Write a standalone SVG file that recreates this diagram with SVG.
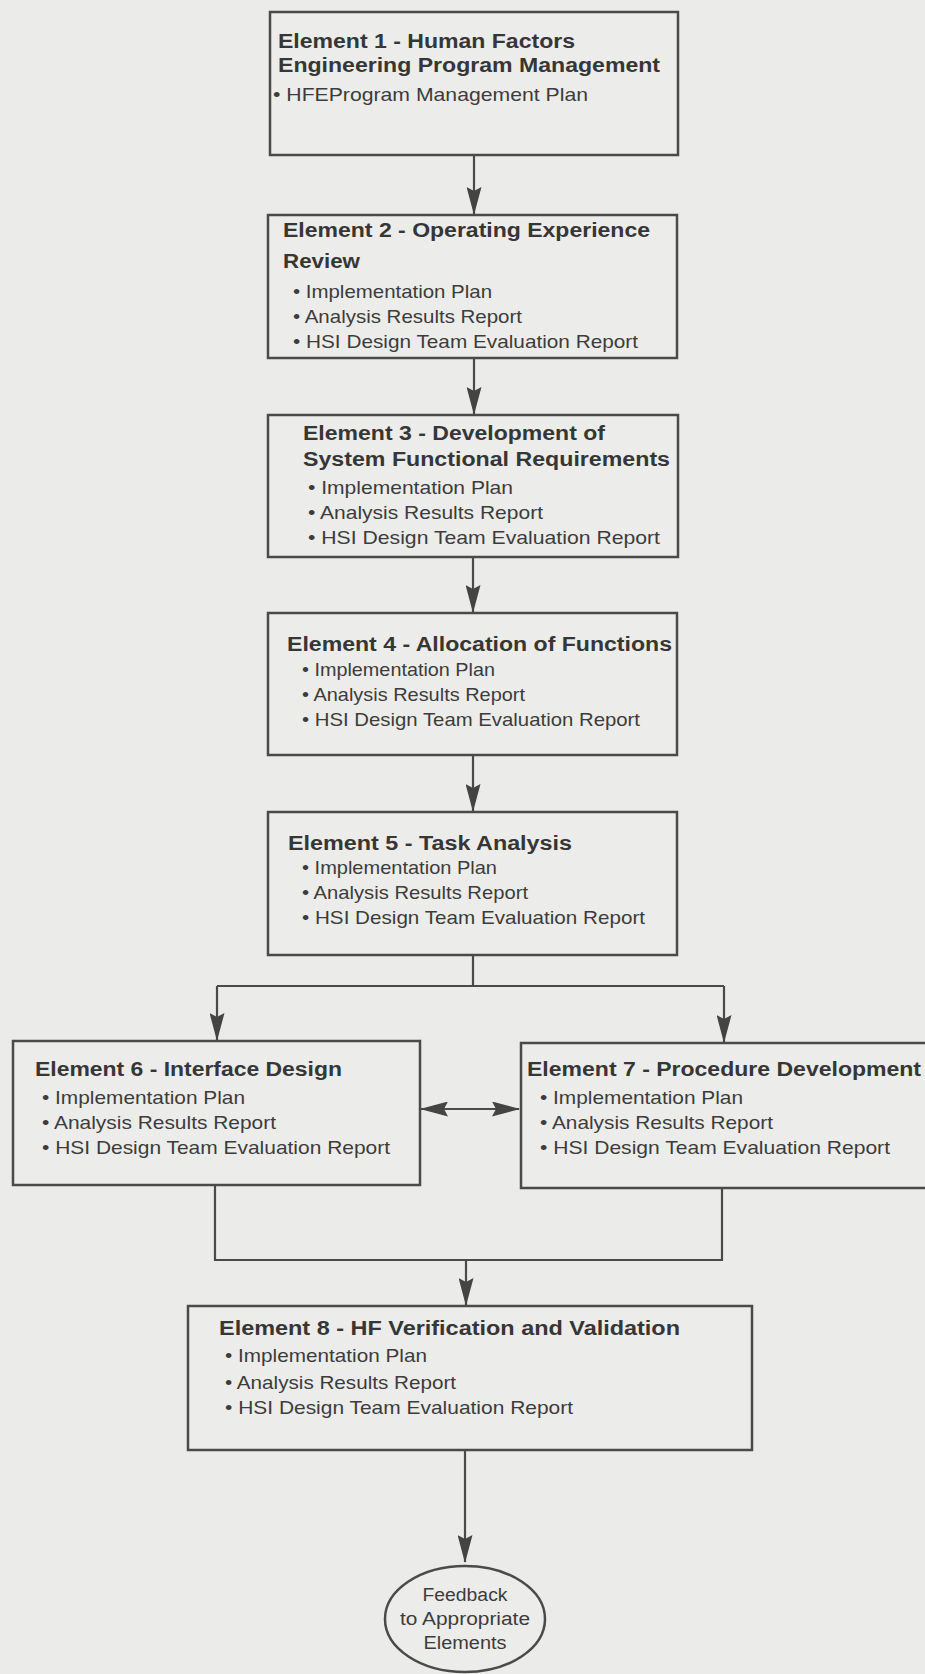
<svg xmlns="http://www.w3.org/2000/svg" width="925" height="1674" viewBox="0 0 925 1674">
<style>
.box{fill:#ececea;stroke:#4a4a4a;stroke-width:2.5}
.t{font-family:"Liberation Sans",Arial,sans-serif;font-weight:bold;font-size:20px;fill:#363636}
.b{font-family:"Liberation Sans",Arial,sans-serif;font-size:19px;fill:#3c3c3c}
.e{font-family:"Liberation Sans",Arial,sans-serif;font-size:18px;fill:#3c3c3c}
.c{fill:none;stroke:#4a4a4a;stroke-width:2.2}
</style>
<defs>
<marker id="ah" viewBox="0 0 28 15" refX="27" refY="7.5" markerWidth="28" markerHeight="15" markerUnits="userSpaceOnUse" orient="auto-start-reverse">
<path d="M0,0 L28,7.5 L0,15 L4,7.5 z" fill="#444"/>
</marker>
</defs>
<rect width="925" height="1674" fill="#ebebe9"/>
<g id="connectors">
<path class="c" d="M474,155 V214" marker-end="url(#ah)"/>
<path class="c" d="M474,358 V414" marker-end="url(#ah)"/>
<path class="c" d="M473,557 V612" marker-end="url(#ah)"/>
<path class="c" d="M473,755 V811" marker-end="url(#ah)"/>
<path class="c" d="M473,955 V986 M217,986 H724"/>
<path class="c" d="M217,986 V1040" marker-end="url(#ah)"/>
<path class="c" d="M724,986 V1042" marker-end="url(#ah)"/>
<path class="c" d="M421,1109 H519" marker-start="url(#ah)" marker-end="url(#ah)"/>
<path class="c" d="M215,1185 V1260 H722 V1188"/>
<path class="c" d="M466,1260 V1305" marker-end="url(#ah)"/>
<path class="c" d="M465,1450 V1562" marker-end="url(#ah)"/>
</g>
<g id="element1">
<rect class="box" x="270" y="12" width="408" height="143"/>
<text class="t" x="278" y="48" textLength="297" lengthAdjust="spacingAndGlyphs">Element 1 - Human Factors</text>
<text class="t" x="278" y="72" textLength="382" lengthAdjust="spacingAndGlyphs">Engineering Program Management</text>
<text class="b" x="273" y="101" textLength="315" lengthAdjust="spacingAndGlyphs">• HFEProgram Management Plan</text>
</g>
<g id="element2">
<rect class="box" x="268" y="215" width="409" height="143"/>
<text class="t" x="283" y="237" textLength="367" lengthAdjust="spacingAndGlyphs">Element 2 - Operating Experience</text>
<text class="t" x="283" y="268" textLength="77" lengthAdjust="spacingAndGlyphs">Review</text>
<text class="b" x="293" y="298" textLength="199" lengthAdjust="spacingAndGlyphs">• Implementation Plan</text>
<text class="b" x="293" y="323" textLength="229" lengthAdjust="spacingAndGlyphs">• Analysis Results Report</text>
<text class="b" x="293" y="348" textLength="345" lengthAdjust="spacingAndGlyphs">• HSI Design Team Evaluation Report</text>
</g>
<g id="element3">
<rect class="box" x="268" y="415" width="410" height="142"/>
<text class="t" x="303" y="440" textLength="302" lengthAdjust="spacingAndGlyphs">Element 3 - Development of</text>
<text class="t" x="303" y="466" textLength="367" lengthAdjust="spacingAndGlyphs">System Functional Requirements</text>
<text class="b" x="308" y="494" textLength="205" lengthAdjust="spacingAndGlyphs">• Implementation Plan</text>
<text class="b" x="308" y="519" textLength="235" lengthAdjust="spacingAndGlyphs">• Analysis Results Report</text>
<text class="b" x="308" y="544" textLength="352" lengthAdjust="spacingAndGlyphs">• HSI Design Team Evaluation Report</text>
</g>
<g id="element4">
<rect class="box" x="268" y="613" width="409" height="142"/>
<text class="t" x="287" y="651" textLength="385" lengthAdjust="spacingAndGlyphs">Element 4 - Allocation of Functions</text>
<text class="b" x="302" y="676" textLength="193" lengthAdjust="spacingAndGlyphs">• Implementation Plan</text>
<text class="b" x="302" y="701" textLength="223" lengthAdjust="spacingAndGlyphs">• Analysis Results Report</text>
<text class="b" x="302" y="726" textLength="338" lengthAdjust="spacingAndGlyphs">• HSI Design Team Evaluation Report</text>
</g>
<g id="element5">
<rect class="box" x="268" y="812" width="409" height="143"/>
<text class="t" x="288" y="850" textLength="284" lengthAdjust="spacingAndGlyphs">Element 5 - Task Analysis</text>
<text class="b" x="302" y="874" textLength="195" lengthAdjust="spacingAndGlyphs">• Implementation Plan</text>
<text class="b" x="302" y="899" textLength="226" lengthAdjust="spacingAndGlyphs">• Analysis Results Report</text>
<text class="b" x="302" y="924" textLength="343" lengthAdjust="spacingAndGlyphs">• HSI Design Team Evaluation Report</text>
</g>
<g id="element6">
<rect class="box" x="13" y="1041" width="407" height="144"/>
<text class="t" x="35" y="1076" textLength="307" lengthAdjust="spacingAndGlyphs">Element 6 - Interface Design</text>
<text class="b" x="42" y="1104" textLength="203" lengthAdjust="spacingAndGlyphs">• Implementation Plan</text>
<text class="b" x="42" y="1129" textLength="234" lengthAdjust="spacingAndGlyphs">• Analysis Results Report</text>
<text class="b" x="42" y="1154" textLength="348" lengthAdjust="spacingAndGlyphs">• HSI Design Team Evaluation Report</text>
</g>
<g id="element7">
<rect class="box" x="521" y="1043" width="420" height="145"/>
<text class="t" x="527" y="1076" textLength="394" lengthAdjust="spacingAndGlyphs">Element 7 - Procedure Development</text>
<text class="b" x="540" y="1104" textLength="203" lengthAdjust="spacingAndGlyphs">• Implementation Plan</text>
<text class="b" x="540" y="1129" textLength="233" lengthAdjust="spacingAndGlyphs">• Analysis Results Report</text>
<text class="b" x="540" y="1154" textLength="350" lengthAdjust="spacingAndGlyphs">• HSI Design Team Evaluation Report</text>
</g>
<g id="element8">
<rect class="box" x="188" y="1306" width="564" height="144"/>
<text class="t" x="219" y="1335" textLength="461" lengthAdjust="spacingAndGlyphs">Element 8 - HF Verification and Validation</text>
<text class="b" x="225" y="1362" textLength="202" lengthAdjust="spacingAndGlyphs">• Implementation Plan</text>
<text class="b" x="225" y="1389" textLength="231" lengthAdjust="spacingAndGlyphs">• Analysis Results Report</text>
<text class="b" x="225" y="1414" textLength="348" lengthAdjust="spacingAndGlyphs">• HSI Design Team Evaluation Report</text>
</g>
<g id="feedback">
<ellipse class="box" cx="465" cy="1619" rx="80" ry="53"/>
<text class="e" x="465" y="1601" text-anchor="middle" textLength="85" lengthAdjust="spacingAndGlyphs">Feedback</text>
<text class="e" x="465" y="1625" text-anchor="middle" textLength="130" lengthAdjust="spacingAndGlyphs">to Appropriate</text>
<text class="e" x="465" y="1649" text-anchor="middle" textLength="83" lengthAdjust="spacingAndGlyphs">Elements</text>
</g>
</svg>
